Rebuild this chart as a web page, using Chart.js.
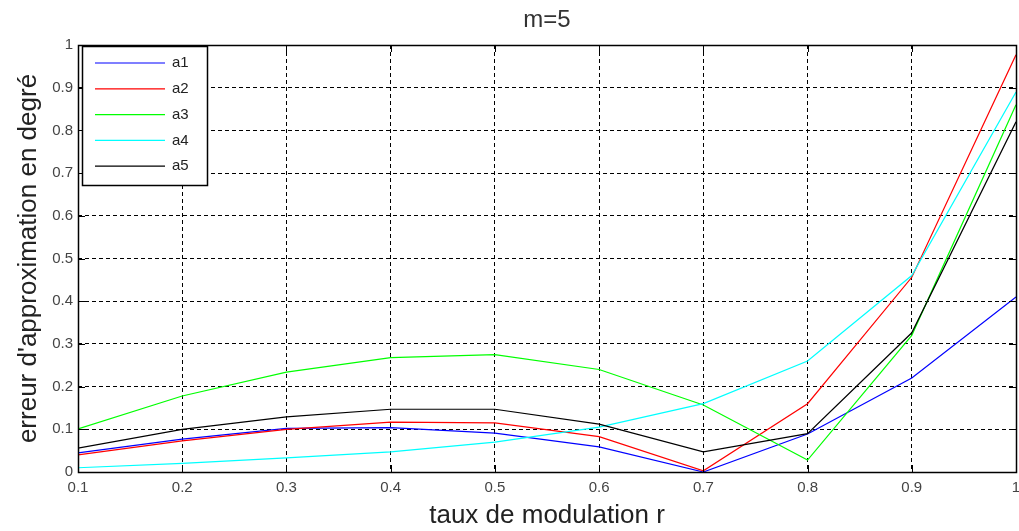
<!DOCTYPE html>
<html>
<head>
<meta charset="utf-8">
<script src="https://cdn.jsdelivr.net/npm/chart.js@4"></script>
<style>
  html, body { margin: 0; padding: 0; background: #fff; }
  #wrap { width: 1019px; height: 531px; }
</style>
</head>
<body>
<div id="wrap"><canvas id="myChart" width="1019" height="531"></canvas></div>
<script>
// taux de modulation r
var rValues = [0.1, 0.2, 0.3, 0.4, 0.5, 0.6, 0.7, 0.8, 0.9, 1.0]

// erreur d'approximation, one array per curve
var a1 = [0.045, 0.077, 0.102, 0.104, 0.091, 0.059, 0.000, 0.089, 0.220, 0.410]
var a2 = [0.040, 0.073, 0.100, 0.117, 0.115, 0.083, 0.003, 0.160, 0.456, 0.977]
var a3 = [0.101, 0.178, 0.234, 0.268, 0.275, 0.240, 0.157, 0.028, 0.320, 0.860]
var a4 = [0.010, 0.020, 0.033, 0.047, 0.070, 0.105, 0.160, 0.260, 0.460, 0.890]
var a5 = [0.056, 0.100, 0.129, 0.147, 0.147, 0.112, 0.047, 0.090, 0.326, 0.820]

var seriesNames = ["a1", "a2", "a3", "a4", "a5"]
var seriesColors = ["#0000ff", "#ff0000", "#00ff00", "#00ffff", "#000000"]
var seriesValues = [a1, a2, a3, a4, a5]

var xTicks = [0.1, 0.2, 0.3, 0.4, 0.5, 0.6, 0.7, 0.8, 0.9, 1]
var yTicks = [0, 0.1, 0.2, 0.3, 0.4, 0.5, 0.6, 0.7, 0.8, 0.9, 1]
var chartTitle = "m=5"

var chartField = document.querySelector("#myChart").getContext("2d")
var FONT = "'Liberation Sans', Arial, sans-serif"

var datasets = seriesValues.map(function (vals, i) {
    return {
        label: seriesNames[i],
        data: vals.map(function (v, j) { return { x: rValues[j], y: v } }),
        borderColor: seriesColors[i],
        backgroundColor: seriesColors[i],
        borderWidth: 1.2,
        pointRadius: 0,
        fill: false,
        tension: 0,
        order: seriesNames.length - i
    }
})

function fmt(v) { return String(+v.toFixed(1)) }

// matlab style box, inner ticks, title over the axes and legend inside
var matlabBox = {
    id: "matlabBox",
    afterDraw: function (chart) {
        var c = chart.ctx, a = chart.chartArea
        var xs = chart.scales.x, ys = chart.scales.y
        c.save()
        c.strokeStyle = "#000"
        c.lineWidth = 1
        c.setLineDash([])
        c.beginPath()
        xTicks.forEach(function (t) {
            var px = Math.round(xs.getPixelForValue(t)) + 0.5
            c.moveTo(px, a.bottom); c.lineTo(px, a.bottom - 7)
            c.moveTo(px, a.top); c.lineTo(px, a.top + 7)
        })
        yTicks.forEach(function (t) {
            var py = Math.round(ys.getPixelForValue(t)) + 0.5
            c.moveTo(a.left, py); c.lineTo(a.left + 7, py)
            c.moveTo(a.right, py); c.lineTo(a.right - 7, py)
        })
        c.stroke()
        c.lineWidth = 1.5
        c.strokeRect(Math.round(a.left) + 0.5, Math.round(a.top) + 0.5,
            Math.round(a.right - a.left), Math.round(a.bottom - a.top))

        // title
        c.fillStyle = "#333"
        c.font = "24px " + FONT
        c.textAlign = "center"
        c.textBaseline = "middle"
        c.fillText(chartTitle, (a.left + a.right) / 2, 20)

        // legend
        var lx = a.left + 4, ly = a.top + 1, lw = 125, lh = 139
        c.fillStyle = "#fff"
        c.fillRect(lx, ly, lw, lh)
        c.lineWidth = 1.5
        c.strokeRect(Math.round(lx) + 0.5, Math.round(ly) + 0.5, lw, lh)
        c.font = "15px " + FONT
        c.textBaseline = "middle"
        c.textAlign = "left"
        chart.data.datasets.forEach(function (ds, i) {
            var yy = ly + 17 + i * 25.8
            c.strokeStyle = ds.borderColor
            c.lineWidth = 1.2
            c.beginPath()
            c.moveTo(lx + 13, yy); c.lineTo(lx + 83, yy)
            c.stroke()
            c.fillStyle = "#222"
            c.fillText(ds.label, lx + 90, yy)
        })
        c.restore()
    }
}

var myChart = new Chart(chartField, {
    type: "line",
    data: { datasets: datasets },
    plugins: [matlabBox],
    options: {
        responsive: false,
        animation: false,
        layout: { padding: { left: 0, right: 3, top: 45, bottom: 0 } },
        plugins: {
            legend: { display: false },
            tooltip: { enabled: false },
            title: { display: false }
        },
        scales: {
            x: {
                type: "linear",
                min: 0.1,
                max: 1,
                afterBuildTicks: function (s) { s.ticks = xTicks.map(function (v) { return { value: v } }) },
                afterFit: function (s) { s.height = 59; s.paddingLeft = 0; s.paddingRight = 0 },
                ticks: {
                    callback: fmt,
                    color: "#444",
                    padding: 7,
                    maxRotation: 0,
                    autoSkip: false,
                    font: { family: FONT, size: 15 }
                },
                grid: { color: "#000", lineWidth: 1, drawTicks: false },
                border: { display: false, dash: [4, 3] },
                title: {
                    display: true,
                    text: "taux de modulation r",
                    color: "#222",
                    padding: { top: 0, bottom: 0 },
                    font: { family: FONT, size: 26 }
                }
            },
            y: {
                min: 0,
                max: 1,
                afterBuildTicks: function (s) { s.ticks = yTicks.map(function (v) { return { value: v } }) },
                afterFit: function (s) { s.width = 78; s.paddingTop = 0; s.paddingBottom = 0 },
                ticks: {
                    callback: fmt,
                    color: "#444",
                    padding: 5,
                    font: { family: FONT, size: 15 }
                },
                grid: { color: "#000", lineWidth: 1, drawTicks: false },
                border: { display: false, dash: [4, 3] },
                title: {
                    display: true,
                    text: "erreur d'approximation en degré",
                    color: "#222",
                    padding: { top: 13, bottom: 0 },
                    font: { family: FONT, size: 26 }
                }
            }
        }
    }
})
</script>
</body>
</html>
